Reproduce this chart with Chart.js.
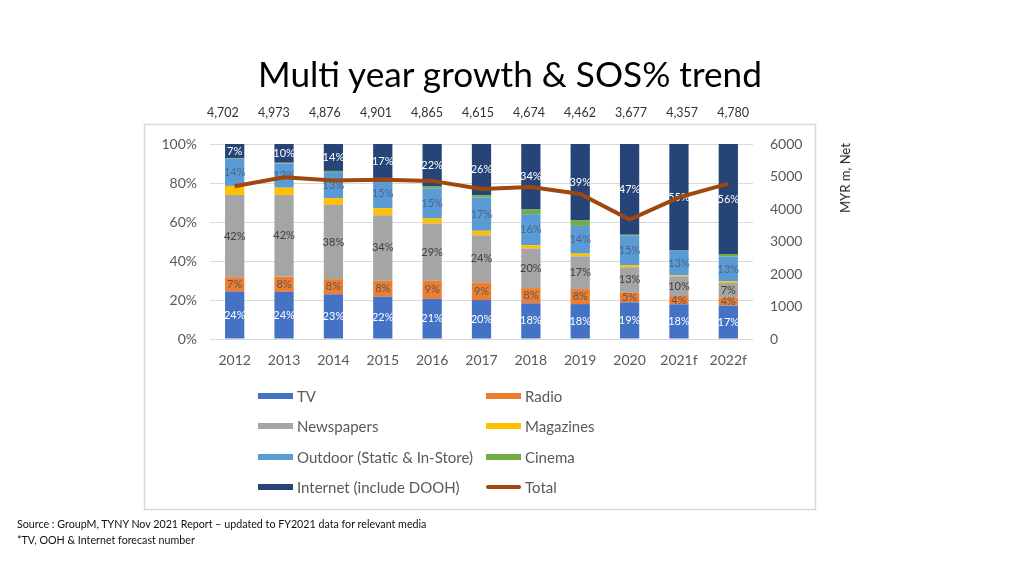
<!DOCTYPE html>
<html><head><meta charset="utf-8">
<script src="https://cdn.jsdelivr.net/npm/chart.js@4"></script>
<style>
html,body{margin:0;padding:0;background:#fff;}
#wrap{position:relative;width:1024px;height:576px;overflow:hidden;font-family:Lato,'Open Sans',sans-serif;}
#c{position:absolute;left:0;top:0;}
#title{position:absolute;left:0;top:52px;width:1020px;text-align:center;font-size:36px;line-height:42px;color:#000;white-space:nowrap;}
#totals{position:absolute;left:207px;top:105px;font-size:12.5px;line-height:16px;color:#333;white-space:pre;}
#unit{position:absolute;left:845px;top:178px;font-size:13px;color:#222;white-space:nowrap;transform:translate(-50%,-50%) rotate(-90deg);}
#src{position:absolute;left:17px;top:516px;font-size:10.7px;line-height:16px;color:#111;white-space:nowrap;}
</style></head>
<body><div id="wrap">
<canvas id="c" width="1024" height="576"></canvas>
<div id="title">Multi year growth &amp; SOS% trend</div>
<div id="totals"></div>
<div id="unit">MYR m, Net</div>
<div id="src">Source : GroupM, TYNY Nov 2021 Report – updated to FY2021 data for relevant media<br>*TV, OOH &amp; Internet forecast number</div>
</div>
<script>
const years = ['2012','2013','2014','2015','2016','2017','2018','2019','2020','2021f','2022f'];
const tv         = [24.4,24.2,23.0,21.7,20.6,20.0,18.3,17.9,18.8,17.8,17.1];
const radio      = [7.2,7.8,7.7,8.2,9.3,9.0,7.8,7.7,5.1,4.2,4.2];
const newspapers = [42.3,41.9,38.1,33.6,29.3,24.2,20.3,16.8,12.9,10.1,7.4];
const magazines  = [4.6,3.7,3.4,3.5,2.6,2.3,1.7,1.4,1.1,0.5,0.8];
const outdoor    = [13.9,12.4,13.4,14.9,15.3,17.0,15.9,14.2,15.1,12.6,12.8];
const cinema     = [0.3,0.4,0.6,0.7,1.1,1.2,2.4,2.8,0.4,0.2,1.3];
const internet   = [7.3,9.6,13.8,17.4,21.8,26.3,33.6,39.2,46.6,54.6,56.4];
const totals     = [4702,4973,4876,4901,4865,4615,4674,4462,3677,4357,4780];
const pctTicks   = [0,20,40,60,80,100];
const valTicks   = [0,1000,2000,3000,4000,5000,6000];

// title fit
(function(){
  const t=document.getElementById('title');
  const span=document.createElement('span');span.textContent=t.textContent;
  t.textContent='';t.appendChild(span);
  const w=span.getBoundingClientRect().width;
  t.style.fontSize=(36*504/w)+'px';
})();
// totals row
(function(){
  const el=document.getElementById('totals');
  el.style.wordSpacing='0px';
  el.textContent=totals.map(v=>v.toLocaleString('en-US')).join(' ');
  const w=el.getBoundingClientRect().width;
  const target=749-207;
  el.style.wordSpacing=((target-w)/(totals.length-1))+'px';
})();

Chart.defaults.font.family="Lato,'Open Sans',sans-serif";
const GRID='#d9d9d9', TICK='#595959';

const labelColors=['#ffffff','#595959','#404040',null,'#4a6688',null,'#ffffff'];

const segLabels={
  id:'segLabels',
  afterDatasetDraw(chart,args){
    const col=labelColors[args.index];
    if(!col) return;
    const ctx=chart.ctx, ds=chart.data.datasets[args.index];
    ctx.save();
    ctx.font="11px Lato,'Open Sans',sans-serif";
    ctx.fillStyle=col;ctx.textAlign='center';ctx.textBaseline='middle';
    args.meta.data.forEach((el,i)=>{
      const v=ds.data[i];
      ctx.fillText(Math.round(v)+'%',el.x,(el.y+el.base)/2);
    });
    ctx.restore();
  }
};

const frame={
  id:'frame',
  beforeDraw(chart){
    const ctx=chart.ctx;
    ctx.save();ctx.strokeStyle='#d9d9d9';ctx.lineWidth=1.5;
    ctx.strokeRect(144.5,124.5,671,385);
    ctx.restore();
  },
  afterDraw(chart){
    const ctx=chart.ctx, dss=chart.data.datasets;
    const cols=[258,486], rows=[396,426,457,487];
    ctx.save();
    ctx.font="15px Lato,'Open Sans',sans-serif";
    ctx.textBaseline='middle';ctx.textAlign='left';ctx.fillStyle=TICK;
    dss.forEach((ds,i)=>{
      const x=cols[i%2], y=rows[Math.floor(i/2)];
      if(ds.type==='line'){
        ctx.strokeStyle=ds.borderColor;ctx.lineWidth=4;ctx.lineCap='round';
        ctx.beginPath();ctx.moveTo(x+2,y);ctx.lineTo(x+33,y);ctx.stroke();
      } else {
        ctx.fillStyle=ds.backgroundColor;ctx.fillRect(x,y-3,35,6);
      }
      ctx.fillStyle=TICK;
      ctx.fillText(ds.label,x+39,y+1);
    });
    ctx.restore();
  }
};

const barDs=(label,data,color)=>({type:'bar',label,data,backgroundColor:color,stack:'s',order:1,
  barPercentage:0.39,categoryPercentage:1,borderWidth:0});

new Chart(document.getElementById('c'),{
  data:{
    labels:years,
    datasets:[
      barDs('TV',tv,'#4472c4'),
      barDs('Radio',radio,'#ed7d31'),
      barDs('Newspapers',newspapers,'#a5a5a5'),
      barDs('Magazines',magazines,'#ffc000'),
      barDs('Outdoor (Static & In-Store)',outdoor,'#5b9bd5'),
      barDs('Cinema',cinema,'#70ad47'),
      barDs('Internet (include DOOH)',internet,'#264478'),
      {type:'line',label:'Total',data:totals,yAxisID:'y1',borderColor:'#9e480e',backgroundColor:'#9e480e',
       borderWidth:4,pointRadius:0,tension:0,order:0}
    ]
  },
  options:{
    responsive:false,animation:false,devicePixelRatio:1,
    layout:{padding:{left:150,top:144,right:209,bottom:207}},
    plugins:{legend:{display:false},tooltip:{enabled:false},title:{display:false}},
    scales:{
      x:{stacked:true,grid:{display:false},border:{display:false},
         ticks:{color:TICK,font:{size:14},padding:5},
         afterFit(s){s.height=30;}},
      y:{stacked:true,min:0,max:100,position:'left',
         grid:{color:GRID,drawTicks:false},border:{display:false},
         afterBuildTicks(s){s.ticks=pctTicks.map(v=>({value:v}));},
         ticks:{color:TICK,font:{size:14},padding:13,callback:v=>v+'%'},
         afterFit(s){s.width=60;}},
      y1:{min:0,max:6000,position:'right',grid:{display:false,drawTicks:false},border:{display:false},
         afterBuildTicks(s){s.ticks=valTicks.map(v=>({value:v}));},
         ticks:{color:TICK,font:{size:14},padding:17,callback:v=>String(v)},
         afterFit(s){s.width=62;}}
    }
  },
  plugins:[segLabels,frame]
});
</script>
</body></html>
